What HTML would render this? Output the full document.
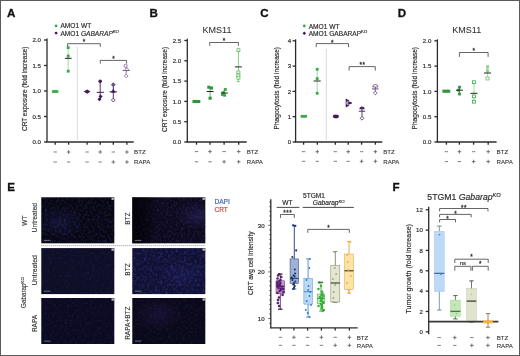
<!DOCTYPE html><html><head><meta charset="utf-8"><style>html,body{margin:0;padding:0;background:#fff;overflow:hidden;}svg{display:block;will-change:transform;}</style></head><body>
<svg width="520" height="356" viewBox="0 0 520 356" font-family='"Liberation Sans", sans-serif'>
<defs><filter id="nb1" x="0" y="0" width="100%" height="100%" color-interpolation-filters="sRGB"><feTurbulence type="fractalNoise" baseFrequency="0.42" numOctaves="2" seed="3"/><feColorMatrix type="matrix" values="0 0 0 0 0.15  0 0 0 0 0.15  0 0 0 0 0.42  0 0 0 1.6 -0.72"/><feComposite in2="SourceGraphic" operator="in"/></filter><filter id="nb2" x="0" y="0" width="100%" height="100%" color-interpolation-filters="sRGB"><feTurbulence type="fractalNoise" baseFrequency="0.38" numOctaves="2" seed="8"/><feColorMatrix type="matrix" values="0 0 0 0 0.18  0 0 0 0 0.18  0 0 0 0 0.5  0 0 0 1.7 -0.72"/><feComposite in2="SourceGraphic" operator="in"/></filter><filter id="nr1" x="0" y="0" width="100%" height="100%" color-interpolation-filters="sRGB"><feTurbulence type="fractalNoise" baseFrequency="0.55" numOctaves="2" seed="5"/><feColorMatrix type="matrix" values="0 0 0 0 0.45  0 0 0 0 0.1  0 0 0 0 0.2  0 0 0 1.6 -0.98"/><feComposite in2="SourceGraphic" operator="in"/></filter><filter id="nb3" x="0" y="0" width="100%" height="100%" color-interpolation-filters="sRGB"><feTurbulence type="fractalNoise" baseFrequency="0.4" numOctaves="2" seed="11"/><feColorMatrix type="matrix" values="0 0 0 0 0.13  0 0 0 0 0.13  0 0 0 0 0.34  0 0 0 1.3 -0.62"/><feComposite in2="SourceGraphic" operator="in"/></filter><filter id="np1" x="0" y="0" width="100%" height="100%" color-interpolation-filters="sRGB"><feTurbulence type="fractalNoise" baseFrequency="0.42" numOctaves="2" seed="13"/><feColorMatrix type="matrix" values="0 0 0 0 0.2  0 0 0 0 0.13  0 0 0 0 0.4  0 0 0 1.6 -0.75"/><feComposite in2="SourceGraphic" operator="in"/></filter><filter id="np2" x="0" y="0" width="100%" height="100%" color-interpolation-filters="sRGB"><feTurbulence type="fractalNoise" baseFrequency="0.42" numOctaves="2" seed="17"/><feColorMatrix type="matrix" values="0 0 0 0 0.18  0 0 0 0 0.12  0 0 0 0 0.36  0 0 0 1.4 -0.7"/><feComposite in2="SourceGraphic" operator="in"/></filter><linearGradient id="gl" x1="0" y1="0" x2="1" y2="0"><stop offset="0" stop-color="#000" stop-opacity="0.75"/><stop offset="0.18" stop-color="#000" stop-opacity="0.5"/><stop offset="0.35" stop-color="#000" stop-opacity="0"/></linearGradient><radialGradient id="gb1" cx="0.25" cy="0.55" r="0.35"><stop offset="0" stop-color="#3a3aa0" stop-opacity="0.22"/><stop offset="1" stop-color="#3a3aa0" stop-opacity="0"/></radialGradient><radialGradient id="gb3" cx="0.9" cy="0.4" r="0.3"><stop offset="0" stop-color="#4a4ab0" stop-opacity="0.25"/><stop offset="1" stop-color="#4a4ab0" stop-opacity="0"/></radialGradient><radialGradient id="gb5" cx="0.68" cy="0.6" r="0.35"><stop offset="0" stop-color="#3a3ab0" stop-opacity="0.18"/><stop offset="1" stop-color="#3a3ab0" stop-opacity="0"/></radialGradient><radialGradient id="gb6" cx="0.35" cy="0.35" r="0.35"><stop offset="0" stop-color="#4a3090" stop-opacity="0.2"/><stop offset="1" stop-color="#4a3090" stop-opacity="0"/></radialGradient></defs>
<rect x="0.00" y="0.00" width="520.00" height="356.00" fill="#ffffff" stroke="none" stroke-width="0" />
<text x="7.00" y="17.20" font-size="11.6" text-anchor="start" fill="#111" stroke="#111" stroke-width="0.3" font-weight="bold" font-style="normal" >A</text>
<text x="149.50" y="16.60" font-size="11.6" text-anchor="start" fill="#111" stroke="#111" stroke-width="0.3" font-weight="bold" font-style="normal" >B</text>
<text x="260.30" y="17.10" font-size="11.6" text-anchor="start" fill="#111" stroke="#111" stroke-width="0.3" font-weight="bold" font-style="normal" >C</text>
<text x="397.80" y="17.00" font-size="11.6" text-anchor="start" fill="#111" stroke="#111" stroke-width="0.3" font-weight="bold" font-style="normal" >D</text>
<text x="7.30" y="190.80" font-size="11.6" text-anchor="start" fill="#111" stroke="#111" stroke-width="0.3" font-weight="bold" font-style="normal" >E</text>
<text x="392.50" y="191.30" font-size="11.6" text-anchor="start" fill="#111" stroke="#111" stroke-width="0.3" font-weight="bold" font-style="normal" >F</text>
<line x1="47.00" y1="38.50" x2="47.00" y2="142.00" stroke="#2b2b2b" stroke-width="1.3" />
<line x1="44.00" y1="142.00" x2="47.00" y2="142.00" stroke="#2b2b2b" stroke-width="1.3" />
<text x="40.90" y="144.20" font-size="6.1" text-anchor="end" fill="#2f2f2f" stroke="#2f2f2f" stroke-width="0.18" font-weight="normal" font-style="normal" >0.0</text>
<line x1="44.00" y1="116.50" x2="47.00" y2="116.50" stroke="#2b2b2b" stroke-width="1.3" />
<text x="40.90" y="118.70" font-size="6.1" text-anchor="end" fill="#2f2f2f" stroke="#2f2f2f" stroke-width="0.18" font-weight="normal" font-style="normal" >0.5</text>
<line x1="44.00" y1="91.00" x2="47.00" y2="91.00" stroke="#2b2b2b" stroke-width="1.3" />
<text x="40.90" y="93.20" font-size="6.1" text-anchor="end" fill="#2f2f2f" stroke="#2f2f2f" stroke-width="0.18" font-weight="normal" font-style="normal" >1.0</text>
<line x1="44.00" y1="65.50" x2="47.00" y2="65.50" stroke="#2b2b2b" stroke-width="1.3" />
<text x="40.90" y="67.70" font-size="6.1" text-anchor="end" fill="#2f2f2f" stroke="#2f2f2f" stroke-width="0.18" font-weight="normal" font-style="normal" >1.5</text>
<line x1="44.00" y1="40.00" x2="47.00" y2="40.00" stroke="#2b2b2b" stroke-width="1.3" />
<text x="40.90" y="42.20" font-size="6.1" text-anchor="end" fill="#2f2f2f" stroke="#2f2f2f" stroke-width="0.18" font-weight="normal" font-style="normal" >2.0</text>
<line x1="46.35" y1="142.00" x2="133.70" y2="142.00" stroke="#2b2b2b" stroke-width="1.3" />
<line x1="55.20" y1="142.00" x2="55.20" y2="144.70" stroke="#2b2b2b" stroke-width="1.3" />
<line x1="68.60" y1="142.00" x2="68.60" y2="144.70" stroke="#2b2b2b" stroke-width="1.3" />
<line x1="87.10" y1="142.00" x2="87.10" y2="144.70" stroke="#2b2b2b" stroke-width="1.3" />
<line x1="100.20" y1="142.00" x2="100.20" y2="144.70" stroke="#2b2b2b" stroke-width="1.3" />
<line x1="113.30" y1="142.00" x2="113.30" y2="144.70" stroke="#2b2b2b" stroke-width="1.3" />
<line x1="126.90" y1="142.00" x2="126.90" y2="144.70" stroke="#2b2b2b" stroke-width="1.3" />
<text transform="translate(24.40,88.80) rotate(-90)" x="0" y="2.66" font-size="7.4" text-anchor="middle" fill="#2f2f2f" stroke="#2f2f2f" stroke-width="0.18" textLength="84.5" lengthAdjust="spacingAndGlyphs" >CRT exposure (fold increase)</text>
<circle cx="56.10" cy="25.90" r="1.4" fill="#3aaa48" stroke="none" stroke-width="0.6"/>
<text x="60.40" y="28.40" font-size="6.6" text-anchor="start" fill="#2f2f2f" stroke="#2f2f2f" stroke-width="0.18" font-weight="normal" font-style="normal" >AMO1 WT</text>
<circle cx="56.10" cy="33.10" r="1.4" fill="#42195a" stroke="none" stroke-width="0.6"/>
<text x="60.40" y="35.60" font-size="6.6" text-anchor="start" fill="#2f2f2f" stroke="#2f2f2f" stroke-width="0.18" font-weight="normal" font-style="normal" >AMO1 <tspan font-style="italic">GABARAP</tspan><tspan font-size="4.2" dy="-2.4" font-style="italic">KO</tspan></text>
<line x1="77.30" y1="47.00" x2="77.30" y2="140.00" stroke="#cfcfcf" stroke-width="0.8" />
<path d="M67.60,46.90 L67.60,43.70 L100.30,43.70 L100.30,46.90" fill="none" stroke="#4a4a4a" stroke-width="0.85"/>
<text x="83.95" y="43.80" font-size="6.4" text-anchor="middle" fill="#333" stroke="#333" stroke-width="0.3" font-weight="normal" font-style="normal" >*</text>
<path d="M100.30,63.60 L100.30,60.40 L126.60,60.40 L126.60,63.60" fill="none" stroke="#4a4a4a" stroke-width="0.85"/>
<text x="113.45" y="60.50" font-size="6.4" text-anchor="middle" fill="#333" stroke="#333" stroke-width="0.3" font-weight="normal" font-style="normal" >*</text>
<rect x="52.04" y="90.14" width="2.71" height="2.71" fill="#3aaa48" stroke="none" stroke-width="0.6" />
<rect x="53.84" y="90.14" width="2.71" height="2.71" fill="#3aaa48" stroke="none" stroke-width="0.6" />
<rect x="55.64" y="90.14" width="2.71" height="2.71" fill="#3aaa48" stroke="none" stroke-width="0.6" />
<line x1="68.20" y1="47.60" x2="68.20" y2="71.20" stroke="#8fd08f" stroke-width="0.8" />
<rect x="66.78" y="46.18" width="2.83" height="2.83" fill="#3aaa48" stroke="none" stroke-width="0.6" />
<rect x="66.78" y="54.58" width="2.83" height="2.83" fill="#3aaa48" stroke="none" stroke-width="0.6" />
<rect x="66.78" y="69.78" width="2.83" height="2.83" fill="#3aaa48" stroke="none" stroke-width="0.6" />
<line x1="64.90" y1="58.30" x2="71.60" y2="58.30" stroke="#222" stroke-width="1.0" />
<path d="M87.10,89.50 L90.50,91.60 L87.10,93.70 L83.70,91.60 Z" fill="#42195a" stroke="none" stroke-width="0.6"/>
<line x1="100.20" y1="81.30" x2="100.20" y2="99.50" stroke="#42195a" stroke-width="0.9" />
<circle cx="100.20" cy="81.30" r="1.8" fill="#42195a" stroke="none" stroke-width="0.6"/>
<path d="M100.60,94.40 L102.60,96.40 L100.60,98.40 L98.60,96.40 Z" fill="#42195a" stroke="none" stroke-width="0.6"/>
<path d="M99.50,97.30 L101.50,99.30 L99.50,101.30 L97.50,99.30 Z" fill="#42195a" stroke="none" stroke-width="0.6"/>
<line x1="96.70" y1="92.30" x2="103.90" y2="92.30" stroke="#42195a" stroke-width="1.0" />
<line x1="113.30" y1="84.70" x2="113.30" y2="100.10" stroke="#42195a" stroke-width="0.9" />
<path d="M113.30,82.80 L115.20,84.70 L113.30,86.60 L111.40,84.70 Z" fill="#7a5a90" stroke="#42195a" stroke-width="0.7"/>
<path d="M113.30,88.50 L115.60,92.64 L111.00,92.64 Z" fill="#42195a" stroke="none" stroke-width="0.6"/>
<path d="M113.30,98.20 L115.20,100.10 L113.30,102.00 L111.40,100.10 Z" fill="#fff" stroke="#42195a" stroke-width="0.8"/>
<line x1="109.60" y1="91.80" x2="117.00" y2="91.80" stroke="#42195a" stroke-width="1.0" />
<line x1="126.20" y1="65.80" x2="126.20" y2="75.90" stroke="#7d5f96" stroke-width="0.8" />
<circle cx="125.60" cy="65.80" r="1.6" fill="#fff" stroke="#7d5f96" stroke-width="0.8"/>
<circle cx="126.80" cy="69.40" r="1.5" fill="#fff" stroke="#7d5f96" stroke-width="0.8"/>
<path d="M126.20,74.00 L128.10,75.90 L126.20,77.80 L124.30,75.90 Z" fill="#fff" stroke="#7d5f96" stroke-width="0.8"/>
<line x1="122.60" y1="70.50" x2="129.80" y2="70.50" stroke="#7d5f96" stroke-width="1.0" />
<line x1="53.50" y1="152.00" x2="56.90" y2="152.00" stroke="#606060" stroke-width="0.8" />
<line x1="66.80" y1="152.00" x2="70.40" y2="152.00" stroke="#606060" stroke-width="0.85" />
<line x1="68.60" y1="150.20" x2="68.60" y2="153.80" stroke="#606060" stroke-width="0.85" />
<line x1="85.40" y1="152.00" x2="88.80" y2="152.00" stroke="#606060" stroke-width="0.8" />
<line x1="98.40" y1="152.00" x2="102.00" y2="152.00" stroke="#606060" stroke-width="0.85" />
<line x1="100.20" y1="150.20" x2="100.20" y2="153.80" stroke="#606060" stroke-width="0.85" />
<line x1="111.60" y1="152.00" x2="115.00" y2="152.00" stroke="#606060" stroke-width="0.8" />
<line x1="125.10" y1="152.00" x2="128.70" y2="152.00" stroke="#606060" stroke-width="0.85" />
<line x1="126.90" y1="150.20" x2="126.90" y2="153.80" stroke="#606060" stroke-width="0.85" />
<line x1="53.50" y1="162.00" x2="56.90" y2="162.00" stroke="#606060" stroke-width="0.8" />
<line x1="66.90" y1="162.00" x2="70.30" y2="162.00" stroke="#606060" stroke-width="0.8" />
<line x1="85.40" y1="162.00" x2="88.80" y2="162.00" stroke="#606060" stroke-width="0.8" />
<line x1="98.50" y1="162.00" x2="101.90" y2="162.00" stroke="#606060" stroke-width="0.8" />
<line x1="111.50" y1="162.00" x2="115.10" y2="162.00" stroke="#606060" stroke-width="0.85" />
<line x1="113.30" y1="160.20" x2="113.30" y2="163.80" stroke="#606060" stroke-width="0.85" />
<line x1="125.10" y1="162.00" x2="128.70" y2="162.00" stroke="#606060" stroke-width="0.85" />
<line x1="126.90" y1="160.20" x2="126.90" y2="163.80" stroke="#606060" stroke-width="0.85" />
<text x="134.10" y="154.20" font-size="6.1" text-anchor="start" fill="#2f2f2f" stroke="#2f2f2f" stroke-width="0.08" font-weight="normal" font-style="normal" >BTZ</text>
<text x="134.10" y="164.20" font-size="6.1" text-anchor="start" fill="#2f2f2f" stroke="#2f2f2f" stroke-width="0.08" font-weight="normal" font-style="normal" >RAPA</text>
<line x1="187.30" y1="38.80" x2="187.30" y2="142.00" stroke="#2b2b2b" stroke-width="1.3" />
<line x1="184.30" y1="142.00" x2="187.30" y2="142.00" stroke="#2b2b2b" stroke-width="1.3" />
<text x="181.20" y="144.20" font-size="6.1" text-anchor="end" fill="#2f2f2f" stroke="#2f2f2f" stroke-width="0.18" font-weight="normal" font-style="normal" >0.0</text>
<line x1="184.30" y1="121.70" x2="187.30" y2="121.70" stroke="#2b2b2b" stroke-width="1.3" />
<text x="181.20" y="123.90" font-size="6.1" text-anchor="end" fill="#2f2f2f" stroke="#2f2f2f" stroke-width="0.18" font-weight="normal" font-style="normal" >0.5</text>
<line x1="184.30" y1="101.40" x2="187.30" y2="101.40" stroke="#2b2b2b" stroke-width="1.3" />
<text x="181.20" y="103.60" font-size="6.1" text-anchor="end" fill="#2f2f2f" stroke="#2f2f2f" stroke-width="0.18" font-weight="normal" font-style="normal" >1.0</text>
<line x1="184.30" y1="81.10" x2="187.30" y2="81.10" stroke="#2b2b2b" stroke-width="1.3" />
<text x="181.20" y="83.30" font-size="6.1" text-anchor="end" fill="#2f2f2f" stroke="#2f2f2f" stroke-width="0.18" font-weight="normal" font-style="normal" >1.5</text>
<line x1="184.30" y1="60.80" x2="187.30" y2="60.80" stroke="#2b2b2b" stroke-width="1.3" />
<text x="181.20" y="63.00" font-size="6.1" text-anchor="end" fill="#2f2f2f" stroke="#2f2f2f" stroke-width="0.18" font-weight="normal" font-style="normal" >2.0</text>
<line x1="184.30" y1="40.50" x2="187.30" y2="40.50" stroke="#2b2b2b" stroke-width="1.3" />
<text x="181.20" y="42.70" font-size="6.1" text-anchor="end" fill="#2f2f2f" stroke="#2f2f2f" stroke-width="0.18" font-weight="normal" font-style="normal" >2.5</text>
<line x1="186.65" y1="142.00" x2="246.70" y2="142.00" stroke="#2b2b2b" stroke-width="1.3" />
<line x1="196.50" y1="142.00" x2="196.50" y2="144.70" stroke="#2b2b2b" stroke-width="1.3" />
<line x1="210.00" y1="142.00" x2="210.00" y2="144.70" stroke="#2b2b2b" stroke-width="1.3" />
<line x1="224.10" y1="142.00" x2="224.10" y2="144.70" stroke="#2b2b2b" stroke-width="1.3" />
<line x1="238.70" y1="142.00" x2="238.70" y2="144.70" stroke="#2b2b2b" stroke-width="1.3" />
<text transform="translate(164.80,89.40) rotate(-90)" x="0" y="2.66" font-size="7.4" text-anchor="middle" fill="#2f2f2f" stroke="#2f2f2f" stroke-width="0.18" textLength="85" lengthAdjust="spacingAndGlyphs" >CRT exposure (fold increase)</text>
<text x="217.00" y="32.90" font-size="9.0" text-anchor="middle" fill="#2f2f2f" stroke="#2f2f2f" stroke-width="0.05" font-weight="normal" font-style="normal" >KMS11</text>
<path d="M209.70,45.90 L209.70,42.50 L238.40,42.50 L238.40,45.90" fill="none" stroke="#4a4a4a" stroke-width="0.85"/>
<text x="224.05" y="42.60" font-size="6.4" text-anchor="middle" fill="#333" stroke="#333" stroke-width="0.3" font-weight="normal" font-style="normal" >*</text>
<rect x="192.47" y="99.97" width="3.07" height="3.07" fill="#2e953d" stroke="none" stroke-width="0.6" />
<rect x="194.87" y="99.97" width="3.07" height="3.07" fill="#2e953d" stroke="none" stroke-width="0.6" />
<rect x="197.27" y="99.97" width="3.07" height="3.07" fill="#2e953d" stroke="none" stroke-width="0.6" />
<line x1="210.10" y1="87.20" x2="210.10" y2="98.00" stroke="#3aaa48" stroke-width="0.8" />
<rect x="207.27" y="85.67" width="3.07" height="3.07" fill="#2e953d" stroke="none" stroke-width="0.6" />
<rect x="209.97" y="86.47" width="3.07" height="3.07" fill="#2e953d" stroke="none" stroke-width="0.6" />
<rect x="208.57" y="96.67" width="3.07" height="3.07" fill="#2e953d" stroke="none" stroke-width="0.6" />
<line x1="206.60" y1="91.50" x2="213.60" y2="91.50" stroke="#222" stroke-width="1.0" />
<line x1="224.30" y1="89.50" x2="224.30" y2="96.00" stroke="#3aaa48" stroke-width="0.8" />
<rect x="223.83" y="88.03" width="2.95" height="2.95" fill="#3aaa48" stroke="none" stroke-width="0.6" />
<rect x="221.83" y="91.12" width="2.95" height="2.95" fill="#3aaa48" stroke="none" stroke-width="0.6" />
<rect x="223.12" y="93.73" width="2.95" height="2.95" fill="#3aaa48" stroke="none" stroke-width="0.6" />
<rect x="221.12" y="93.03" width="2.95" height="2.95" fill="#3aaa48" stroke="none" stroke-width="0.6" />
<line x1="220.80" y1="93.00" x2="227.80" y2="93.00" stroke="#222" stroke-width="1.0" />
<line x1="238.40" y1="50.20" x2="238.40" y2="81.60" stroke="#6cc06c" stroke-width="0.8" />
<rect x="236.93" y="48.73" width="2.95" height="2.95" fill="#fff" stroke="#5ab85a" stroke-width="0.8" />
<rect x="236.93" y="70.93" width="2.95" height="2.95" fill="#fff" stroke="#5ab85a" stroke-width="0.8" />
<rect x="236.93" y="73.93" width="2.95" height="2.95" fill="#fff" stroke="#5ab85a" stroke-width="0.8" />
<rect x="236.93" y="76.23" width="2.95" height="2.95" fill="#fff" stroke="#5ab85a" stroke-width="0.8" />
<line x1="236.60" y1="81.60" x2="240.20" y2="81.60" stroke="#6cc06c" stroke-width="0.8" />
<line x1="234.90" y1="66.90" x2="241.90" y2="66.90" stroke="#222" stroke-width="1.0" />
<line x1="194.80" y1="151.60" x2="198.20" y2="151.60" stroke="#606060" stroke-width="0.8" />
<line x1="208.20" y1="151.60" x2="211.80" y2="151.60" stroke="#606060" stroke-width="0.85" />
<line x1="210.00" y1="149.80" x2="210.00" y2="153.40" stroke="#606060" stroke-width="0.85" />
<line x1="222.40" y1="151.60" x2="225.80" y2="151.60" stroke="#606060" stroke-width="0.8" />
<line x1="236.90" y1="151.60" x2="240.50" y2="151.60" stroke="#606060" stroke-width="0.85" />
<line x1="238.70" y1="149.80" x2="238.70" y2="153.40" stroke="#606060" stroke-width="0.85" />
<line x1="194.80" y1="161.80" x2="198.20" y2="161.80" stroke="#606060" stroke-width="0.8" />
<line x1="208.30" y1="161.80" x2="211.70" y2="161.80" stroke="#606060" stroke-width="0.8" />
<line x1="222.30" y1="161.80" x2="225.90" y2="161.80" stroke="#606060" stroke-width="0.85" />
<line x1="224.10" y1="160.00" x2="224.10" y2="163.60" stroke="#606060" stroke-width="0.85" />
<line x1="236.90" y1="161.80" x2="240.50" y2="161.80" stroke="#606060" stroke-width="0.85" />
<line x1="238.70" y1="160.00" x2="238.70" y2="163.60" stroke="#606060" stroke-width="0.85" />
<text x="246.80" y="153.80" font-size="6.1" text-anchor="start" fill="#2f2f2f" stroke="#2f2f2f" stroke-width="0.08" font-weight="normal" font-style="normal" >BTZ</text>
<text x="246.80" y="164.00" font-size="6.1" text-anchor="start" fill="#2f2f2f" stroke="#2f2f2f" stroke-width="0.08" font-weight="normal" font-style="normal" >RAPA</text>
<line x1="295.60" y1="39.30" x2="295.60" y2="142.00" stroke="#2b2b2b" stroke-width="1.3" />
<line x1="292.60" y1="142.00" x2="295.60" y2="142.00" stroke="#2b2b2b" stroke-width="1.3" />
<text x="291.20" y="144.20" font-size="6.1" text-anchor="end" fill="#2f2f2f" stroke="#2f2f2f" stroke-width="0.18" font-weight="normal" font-style="normal" >0</text>
<line x1="292.60" y1="116.70" x2="295.60" y2="116.70" stroke="#2b2b2b" stroke-width="1.3" />
<text x="291.20" y="118.90" font-size="6.1" text-anchor="end" fill="#2f2f2f" stroke="#2f2f2f" stroke-width="0.18" font-weight="normal" font-style="normal" >1</text>
<line x1="292.60" y1="91.40" x2="295.60" y2="91.40" stroke="#2b2b2b" stroke-width="1.3" />
<text x="291.20" y="93.60" font-size="6.1" text-anchor="end" fill="#2f2f2f" stroke="#2f2f2f" stroke-width="0.18" font-weight="normal" font-style="normal" >2</text>
<line x1="292.60" y1="66.10" x2="295.60" y2="66.10" stroke="#2b2b2b" stroke-width="1.3" />
<text x="291.20" y="68.30" font-size="6.1" text-anchor="end" fill="#2f2f2f" stroke="#2f2f2f" stroke-width="0.18" font-weight="normal" font-style="normal" >3</text>
<line x1="292.60" y1="40.80" x2="295.60" y2="40.80" stroke="#2b2b2b" stroke-width="1.3" />
<text x="291.20" y="43.00" font-size="6.1" text-anchor="end" fill="#2f2f2f" stroke="#2f2f2f" stroke-width="0.18" font-weight="normal" font-style="normal" >4</text>
<line x1="294.95" y1="142.00" x2="382.30" y2="142.00" stroke="#2b2b2b" stroke-width="1.3" />
<line x1="303.60" y1="142.00" x2="303.60" y2="144.70" stroke="#2b2b2b" stroke-width="1.3" />
<line x1="317.30" y1="142.00" x2="317.30" y2="144.70" stroke="#2b2b2b" stroke-width="1.3" />
<line x1="335.30" y1="142.00" x2="335.30" y2="144.70" stroke="#2b2b2b" stroke-width="1.3" />
<line x1="348.20" y1="142.00" x2="348.20" y2="144.70" stroke="#2b2b2b" stroke-width="1.3" />
<line x1="361.60" y1="142.00" x2="361.60" y2="144.70" stroke="#2b2b2b" stroke-width="1.3" />
<line x1="375.40" y1="142.00" x2="375.40" y2="144.70" stroke="#2b2b2b" stroke-width="1.3" />
<text transform="translate(276.80,88.20) rotate(-90)" x="0" y="2.66" font-size="7.4" text-anchor="middle" fill="#2f2f2f" stroke="#2f2f2f" stroke-width="0.18" textLength="82.5" lengthAdjust="spacingAndGlyphs" >Phagocytosis (fold increase)</text>
<circle cx="304.30" cy="26.00" r="1.4" fill="#3aaa48" stroke="none" stroke-width="0.6"/>
<text x="308.70" y="28.50" font-size="6.6" text-anchor="start" fill="#2f2f2f" stroke="#2f2f2f" stroke-width="0.18" font-weight="normal" font-style="normal" >AMO1 WT</text>
<path d="M304.30,31.40 L306.10,33.20 L304.30,35.00 L302.50,33.20 Z" fill="#42195a" stroke="none" stroke-width="0.6"/>
<text x="308.70" y="35.70" font-size="6.6" text-anchor="start" fill="#2f2f2f" stroke="#2f2f2f" stroke-width="0.18" font-weight="normal" font-style="normal" >AMO1 GABARAP<tspan font-size="4.2" dy="-2.4">KO</tspan></text>
<line x1="326.30" y1="49.00" x2="326.30" y2="140.00" stroke="#cfcfcf" stroke-width="0.8" />
<path d="M316.20,47.20 L316.20,43.60 L348.50,43.60 L348.50,47.20" fill="none" stroke="#4a4a4a" stroke-width="0.85"/>
<text x="332.35" y="45.00" font-size="6.4" text-anchor="middle" fill="#333" stroke="#333" stroke-width="0.3" font-weight="normal" font-style="normal" >*</text>
<path d="M349.10,70.60 L349.10,66.60 L375.30,66.60 L375.30,70.60" fill="none" stroke="#4a4a4a" stroke-width="0.85"/>
<text x="362.45" y="67.10" font-size="6.4" text-anchor="middle" fill="#333" stroke="#333" stroke-width="0.3" font-weight="normal" font-style="normal" letter-spacing="0.5">**</text>
<rect x="300.64" y="114.94" width="2.71" height="2.71" fill="#3aaa48" stroke="none" stroke-width="0.6" />
<rect x="302.44" y="114.94" width="2.71" height="2.71" fill="#3aaa48" stroke="none" stroke-width="0.6" />
<rect x="304.24" y="114.94" width="2.71" height="2.71" fill="#3aaa48" stroke="none" stroke-width="0.6" />
<line x1="317.20" y1="69.30" x2="317.20" y2="93.30" stroke="#8fd08f" stroke-width="0.8" />
<rect x="315.78" y="67.88" width="2.83" height="2.83" fill="#3aaa48" stroke="none" stroke-width="0.6" />
<rect x="315.78" y="77.18" width="2.83" height="2.83" fill="#3aaa48" stroke="none" stroke-width="0.6" />
<rect x="315.78" y="91.88" width="2.83" height="2.83" fill="#3aaa48" stroke="none" stroke-width="0.6" />
<line x1="313.70" y1="81.00" x2="320.70" y2="81.00" stroke="#222" stroke-width="1.0" />
<ellipse cx="335.90" cy="116.40" rx="3.0" ry="1.8" fill="#42195a" stroke="none" stroke-width="0.6"/>
<path d="M345.70,98.50 L349.50,100.40 L345.70,102.30 Z" fill="#42195a"/>
<path d="M348.30,101.10 L352.10,103.00 L348.30,104.90 Z" fill="#42195a"/>
<path d="M345.70,103.70 L349.50,105.60 L345.70,107.50 Z" fill="#42195a"/>
<line x1="345.40" y1="103.00" x2="352.00" y2="103.00" stroke="#42195a" stroke-width="0.9" />
<line x1="362.00" y1="108.30" x2="362.00" y2="118.30" stroke="#4a2a5a" stroke-width="0.9" />
<path d="M359.40,109.20 A2.6,2.6 0 0 1 364.60,109.20 Z" fill="#4a2a5a" stroke="none" stroke-width="0.6"/>
<line x1="358.80" y1="111.20" x2="365.20" y2="111.20" stroke="#4a2a5a" stroke-width="1.0" />
<path d="M362.00,116.40 L363.90,118.30 L362.00,120.20 L360.10,118.30 Z" fill="#fff" stroke="#4a2a5a" stroke-width="0.8"/>
<line x1="375.30" y1="86.00" x2="375.30" y2="93.00" stroke="#6a4a7a" stroke-width="0.9" />
<path d="M372.70,87.00 A2.6,2.6 0 0 1 377.90,87.00 Z" fill="#fff" stroke="#6a4a7a" stroke-width="0.8"/>
<line x1="372.10" y1="88.90" x2="378.50" y2="88.90" stroke="#6a4a7a" stroke-width="1.0" />
<path d="M375.30,91.10 L377.20,93.00 L375.30,94.90 L373.40,93.00 Z" fill="#fff" stroke="#6a4a7a" stroke-width="0.8"/>
<line x1="301.90" y1="151.70" x2="305.30" y2="151.70" stroke="#606060" stroke-width="0.8" />
<line x1="315.50" y1="151.70" x2="319.10" y2="151.70" stroke="#606060" stroke-width="0.85" />
<line x1="317.30" y1="149.90" x2="317.30" y2="153.50" stroke="#606060" stroke-width="0.85" />
<line x1="333.60" y1="151.70" x2="337.00" y2="151.70" stroke="#606060" stroke-width="0.8" />
<line x1="346.40" y1="151.70" x2="350.00" y2="151.70" stroke="#606060" stroke-width="0.85" />
<line x1="348.20" y1="149.90" x2="348.20" y2="153.50" stroke="#606060" stroke-width="0.85" />
<line x1="359.90" y1="151.70" x2="363.30" y2="151.70" stroke="#606060" stroke-width="0.8" />
<line x1="373.60" y1="151.70" x2="377.20" y2="151.70" stroke="#606060" stroke-width="0.85" />
<line x1="375.40" y1="149.90" x2="375.40" y2="153.50" stroke="#606060" stroke-width="0.85" />
<line x1="301.90" y1="161.30" x2="305.30" y2="161.30" stroke="#606060" stroke-width="0.8" />
<line x1="315.60" y1="161.30" x2="319.00" y2="161.30" stroke="#606060" stroke-width="0.8" />
<line x1="333.60" y1="161.30" x2="337.00" y2="161.30" stroke="#606060" stroke-width="0.8" />
<line x1="346.50" y1="161.30" x2="349.90" y2="161.30" stroke="#606060" stroke-width="0.8" />
<line x1="359.80" y1="161.30" x2="363.40" y2="161.30" stroke="#606060" stroke-width="0.85" />
<line x1="361.60" y1="159.50" x2="361.60" y2="163.10" stroke="#606060" stroke-width="0.85" />
<line x1="373.60" y1="161.30" x2="377.20" y2="161.30" stroke="#606060" stroke-width="0.85" />
<line x1="375.40" y1="159.50" x2="375.40" y2="163.10" stroke="#606060" stroke-width="0.85" />
<text x="383.30" y="153.90" font-size="6.1" text-anchor="start" fill="#2f2f2f" stroke="#2f2f2f" stroke-width="0.08" font-weight="normal" font-style="normal" >BTZ</text>
<text x="383.30" y="163.50" font-size="6.1" text-anchor="start" fill="#2f2f2f" stroke="#2f2f2f" stroke-width="0.08" font-weight="normal" font-style="normal" >RAPA</text>
<line x1="437.40" y1="39.30" x2="437.40" y2="142.00" stroke="#2b2b2b" stroke-width="1.3" />
<line x1="434.40" y1="142.00" x2="437.40" y2="142.00" stroke="#2b2b2b" stroke-width="1.3" />
<text x="431.30" y="144.20" font-size="6.1" text-anchor="end" fill="#2f2f2f" stroke="#2f2f2f" stroke-width="0.18" font-weight="normal" font-style="normal" >0.0</text>
<line x1="434.40" y1="116.70" x2="437.40" y2="116.70" stroke="#2b2b2b" stroke-width="1.3" />
<text x="431.30" y="118.90" font-size="6.1" text-anchor="end" fill="#2f2f2f" stroke="#2f2f2f" stroke-width="0.18" font-weight="normal" font-style="normal" >0.5</text>
<line x1="434.40" y1="91.40" x2="437.40" y2="91.40" stroke="#2b2b2b" stroke-width="1.3" />
<text x="431.30" y="93.60" font-size="6.1" text-anchor="end" fill="#2f2f2f" stroke="#2f2f2f" stroke-width="0.18" font-weight="normal" font-style="normal" >1.0</text>
<line x1="434.40" y1="66.10" x2="437.40" y2="66.10" stroke="#2b2b2b" stroke-width="1.3" />
<text x="431.30" y="68.30" font-size="6.1" text-anchor="end" fill="#2f2f2f" stroke="#2f2f2f" stroke-width="0.18" font-weight="normal" font-style="normal" >1.5</text>
<line x1="434.40" y1="40.80" x2="437.40" y2="40.80" stroke="#2b2b2b" stroke-width="1.3" />
<text x="431.30" y="43.00" font-size="6.1" text-anchor="end" fill="#2f2f2f" stroke="#2f2f2f" stroke-width="0.18" font-weight="normal" font-style="normal" >2.0</text>
<line x1="436.75" y1="142.00" x2="496.60" y2="142.00" stroke="#2b2b2b" stroke-width="1.3" />
<line x1="446.40" y1="142.00" x2="446.40" y2="144.70" stroke="#2b2b2b" stroke-width="1.3" />
<line x1="459.40" y1="142.00" x2="459.40" y2="144.70" stroke="#2b2b2b" stroke-width="1.3" />
<line x1="473.60" y1="142.00" x2="473.60" y2="144.70" stroke="#2b2b2b" stroke-width="1.3" />
<line x1="488.20" y1="142.00" x2="488.20" y2="144.70" stroke="#2b2b2b" stroke-width="1.3" />
<text transform="translate(414.50,88.20) rotate(-90)" x="0" y="2.66" font-size="7.4" text-anchor="middle" fill="#2f2f2f" stroke="#2f2f2f" stroke-width="0.18" textLength="82.5" lengthAdjust="spacingAndGlyphs" >Phagocytosis (fold increase)</text>
<text x="466.80" y="33.10" font-size="9.0" text-anchor="middle" fill="#2f2f2f" stroke="#2f2f2f" stroke-width="0.05" font-weight="normal" font-style="normal" >KMS11</text>
<path d="M459.40,56.90 L459.40,52.50 L488.10,52.50 L488.10,56.90" fill="none" stroke="#4a4a4a" stroke-width="0.85"/>
<text x="473.75" y="53.20" font-size="6.4" text-anchor="middle" fill="#333" stroke="#333" stroke-width="0.3" font-weight="normal" font-style="normal" >*</text>
<rect x="442.37" y="89.67" width="3.07" height="3.07" fill="#2e953d" stroke="none" stroke-width="0.6" />
<rect x="444.77" y="89.67" width="3.07" height="3.07" fill="#2e953d" stroke="none" stroke-width="0.6" />
<rect x="447.17" y="89.67" width="3.07" height="3.07" fill="#2e953d" stroke="none" stroke-width="0.6" />
<line x1="459.50" y1="87.20" x2="459.50" y2="94.00" stroke="#2e953d" stroke-width="0.8" />
<rect x="458.08" y="85.78" width="2.83" height="2.83" fill="#2e953d" stroke="none" stroke-width="0.6" />
<rect x="457.18" y="88.78" width="2.83" height="2.83" fill="#2e953d" stroke="none" stroke-width="0.6" />
<rect x="458.08" y="92.58" width="2.83" height="2.83" fill="#2e953d" stroke="none" stroke-width="0.6" />
<line x1="456.00" y1="90.20" x2="463.00" y2="90.20" stroke="#222" stroke-width="1.0" />
<line x1="474.00" y1="82.20" x2="474.00" y2="101.70" stroke="#8fd08f" stroke-width="0.8" />
<rect x="472.58" y="80.78" width="2.83" height="2.83" fill="#fff" stroke="#3aaa48" stroke-width="0.8" />
<rect x="472.58" y="94.98" width="2.83" height="2.83" fill="#fff" stroke="#3aaa48" stroke-width="0.8" />
<rect x="472.58" y="100.28" width="2.83" height="2.83" fill="#fff" stroke="#3aaa48" stroke-width="0.8" />
<line x1="470.50" y1="93.30" x2="477.50" y2="93.30" stroke="#222" stroke-width="1.0" />
<line x1="487.50" y1="66.80" x2="487.50" y2="78.50" stroke="#9ed89e" stroke-width="0.8" />
<rect x="485.97" y="65.27" width="3.07" height="3.07" fill="#8fd08f" stroke="none" stroke-width="0.6" />
<rect x="485.97" y="69.27" width="3.07" height="3.07" fill="#8fd08f" stroke="none" stroke-width="0.6" />
<rect x="486.02" y="77.03" width="2.95" height="2.95" fill="#fff" stroke="#6cc06c" stroke-width="0.8" />
<line x1="484.00" y1="73.00" x2="491.00" y2="73.00" stroke="#222" stroke-width="1.0" />
<line x1="444.70" y1="151.70" x2="448.10" y2="151.70" stroke="#606060" stroke-width="0.8" />
<line x1="457.60" y1="151.70" x2="461.20" y2="151.70" stroke="#606060" stroke-width="0.85" />
<line x1="459.40" y1="149.90" x2="459.40" y2="153.50" stroke="#606060" stroke-width="0.85" />
<line x1="471.90" y1="151.70" x2="475.30" y2="151.70" stroke="#606060" stroke-width="0.8" />
<line x1="486.40" y1="151.70" x2="490.00" y2="151.70" stroke="#606060" stroke-width="0.85" />
<line x1="488.20" y1="149.90" x2="488.20" y2="153.50" stroke="#606060" stroke-width="0.85" />
<line x1="444.70" y1="161.60" x2="448.10" y2="161.60" stroke="#606060" stroke-width="0.8" />
<line x1="457.70" y1="161.60" x2="461.10" y2="161.60" stroke="#606060" stroke-width="0.8" />
<line x1="471.80" y1="161.60" x2="475.40" y2="161.60" stroke="#606060" stroke-width="0.85" />
<line x1="473.60" y1="159.80" x2="473.60" y2="163.40" stroke="#606060" stroke-width="0.85" />
<line x1="486.40" y1="161.60" x2="490.00" y2="161.60" stroke="#606060" stroke-width="0.85" />
<line x1="488.20" y1="159.80" x2="488.20" y2="163.40" stroke="#606060" stroke-width="0.85" />
<text x="496.60" y="153.90" font-size="6.1" text-anchor="start" fill="#2f2f2f" stroke="#2f2f2f" stroke-width="0.08" font-weight="normal" font-style="normal" >BTZ</text>
<text x="496.60" y="163.80" font-size="6.1" text-anchor="start" fill="#2f2f2f" stroke="#2f2f2f" stroke-width="0.08" font-weight="normal" font-style="normal" >RAPA</text>
<rect x="41.30" y="197.30" width="73.00" height="46.00" fill="#070710" stroke="none" stroke-width="0" />
<rect x="41.30" y="197.30" width="73.00" height="46.00" fill="#000" stroke="none" stroke-width="0" filter="url(#nb1)"/>
<rect x="41.30" y="197.30" width="73.00" height="46.00" fill="url(#gb1)" stroke="none" stroke-width="0" />
<rect x="111.50" y="197.70" width="2.40" height="2.20" fill="#b8b8c0" stroke="none" stroke-width="0" />
<rect x="43.90" y="239.90" width="6.50" height="1.00" fill="#6a6a80" stroke="none" stroke-width="0" />
<rect x="132.30" y="197.30" width="73.00" height="46.00" fill="#0b0a1c" stroke="none" stroke-width="0" />
<rect x="132.30" y="197.30" width="73.00" height="46.00" fill="#000" stroke="none" stroke-width="0" filter="url(#np1)"/>
<rect x="132.30" y="197.30" width="73.00" height="46.00" fill="#000" stroke="none" stroke-width="0" filter="url(#nr1)"/>
<rect x="132.30" y="197.30" width="73.00" height="46.00" fill="url(#gb3)" stroke="none" stroke-width="0" />
<rect x="132.30" y="197.30" width="73.00" height="46.00" fill="url(#gl)" stroke="none" stroke-width="0" />
<rect x="202.50" y="197.70" width="2.40" height="2.20" fill="#b8b8c0" stroke="none" stroke-width="0" />
<rect x="134.90" y="239.90" width="6.50" height="1.00" fill="#6a6a80" stroke="none" stroke-width="0" />
<rect x="41.30" y="248.10" width="73.00" height="46.00" fill="#0e0e26" stroke="none" stroke-width="0" />
<rect x="41.30" y="248.10" width="73.00" height="46.00" fill="#000" stroke="none" stroke-width="0" filter="url(#nb3)"/>
<rect x="111.50" y="248.50" width="2.40" height="2.20" fill="#b8b8c0" stroke="none" stroke-width="0" />
<rect x="43.90" y="290.70" width="6.50" height="1.00" fill="#6a6a80" stroke="none" stroke-width="0" />
<rect x="132.30" y="248.10" width="73.00" height="46.00" fill="#101030" stroke="none" stroke-width="0" />
<rect x="132.30" y="248.10" width="73.00" height="46.00" fill="#000" stroke="none" stroke-width="0" filter="url(#nb2)"/>
<rect x="132.30" y="248.10" width="73.00" height="46.00" fill="url(#gb5)" stroke="none" stroke-width="0" />
<rect x="202.50" y="248.50" width="2.40" height="2.20" fill="#b8b8c0" stroke="none" stroke-width="0" />
<rect x="134.90" y="290.70" width="6.50" height="1.00" fill="#6a6a80" stroke="none" stroke-width="0" />
<rect x="41.30" y="298.00" width="73.00" height="46.00" fill="#0b0a20" stroke="none" stroke-width="0" />
<rect x="41.30" y="298.00" width="73.00" height="46.00" fill="#000" stroke="none" stroke-width="0" filter="url(#nb3)"/>
<rect x="111.50" y="298.40" width="2.40" height="2.20" fill="#b8b8c0" stroke="none" stroke-width="0" />
<rect x="43.90" y="340.60" width="6.50" height="1.00" fill="#6a6a80" stroke="none" stroke-width="0" />
<rect x="132.30" y="298.00" width="73.00" height="46.00" fill="#0a0919" stroke="none" stroke-width="0" />
<rect x="132.30" y="298.00" width="73.00" height="46.00" fill="#000" stroke="none" stroke-width="0" filter="url(#np2)"/>
<rect x="132.30" y="298.00" width="73.00" height="46.00" fill="url(#gb6)" stroke="none" stroke-width="0" />
<rect x="202.50" y="298.40" width="2.40" height="2.20" fill="#b8b8c0" stroke="none" stroke-width="0" />
<rect x="134.90" y="340.60" width="6.50" height="1.00" fill="#6a6a80" stroke="none" stroke-width="0" />
<line x1="41.3" y1="245.6" x2="205.3" y2="245.6" stroke="#8a8a8a" stroke-width="0.9" stroke-dasharray="1,1"/>
<text transform="translate(24.20,220.60) rotate(-90)" x="0" y="2.34" font-size="6.5" text-anchor="middle" fill="#2f2f2f" stroke="#2f2f2f" stroke-width="0.1"  >WT</text>
<text transform="translate(34.70,217.70) rotate(-90)" x="0" y="2.52" font-size="7.0" text-anchor="middle" fill="#2f2f2f" stroke="#2f2f2f" stroke-width="0.1" textLength="29.5" lengthAdjust="spacingAndGlyphs" >Untreated</text>
<text transform="translate(127.60,218.60) rotate(-90)" x="0" y="2.34" font-size="6.5" text-anchor="middle" fill="#2f2f2f" stroke="#2f2f2f" stroke-width="0.1"  >BTZ</text>
<text transform="translate(34.70,270.20) rotate(-90)" x="0" y="2.52" font-size="7.0" text-anchor="middle" fill="#2f2f2f" stroke="#2f2f2f" stroke-width="0.1" textLength="30" lengthAdjust="spacingAndGlyphs" >Untreated</text>
<text transform="translate(24.00,292.60) rotate(-90)" x="0" y="2.27" font-size="6.3" text-anchor="middle" fill="#2f2f2f" stroke="#2f2f2f" stroke-width="0.1"  >Gabarap<tspan font-size="4.2" dy="-2.4">KO</tspan></text>
<text transform="translate(34.20,323.50) rotate(-90)" x="0" y="2.34" font-size="6.5" text-anchor="middle" fill="#2f2f2f" stroke="#2f2f2f" stroke-width="0.1"  >RAPA</text>
<text transform="translate(127.80,269.50) rotate(-90)" x="0" y="2.34" font-size="6.5" text-anchor="middle" fill="#2f2f2f" stroke="#2f2f2f" stroke-width="0.1"  >BTZ</text>
<text transform="translate(127.80,323.20) rotate(-90)" x="0" y="2.34" font-size="6.5" text-anchor="middle" fill="#2f2f2f" stroke="#2f2f2f" stroke-width="0.1"  >RAPA+BTZ</text>
<text x="214.40" y="204.00" font-size="6.6" text-anchor="start" fill="#3d63a8" stroke="#3d63a8" stroke-width="0.18" font-weight="normal" font-style="normal" >DAPI</text>
<text x="214.40" y="211.60" font-size="6.6" text-anchor="start" fill="#c84646" stroke="#c84646" stroke-width="0.18" font-weight="normal" font-style="normal" >CRT</text>
<line x1="270.80" y1="199.30" x2="270.80" y2="328.30" stroke="#2b2b2b" stroke-width="1.3" />
<line x1="269.20" y1="323.16" x2="271.00" y2="323.16" stroke="#2b2b2b" stroke-width="0.7" />
<line x1="268.20" y1="318.50" x2="271.00" y2="318.50" stroke="#2b2b2b" stroke-width="0.7" />
<line x1="269.20" y1="313.84" x2="271.00" y2="313.84" stroke="#2b2b2b" stroke-width="0.7" />
<line x1="269.20" y1="309.18" x2="271.00" y2="309.18" stroke="#2b2b2b" stroke-width="0.7" />
<line x1="269.20" y1="304.52" x2="271.00" y2="304.52" stroke="#2b2b2b" stroke-width="0.7" />
<line x1="269.20" y1="299.86" x2="271.00" y2="299.86" stroke="#2b2b2b" stroke-width="0.7" />
<line x1="269.20" y1="295.20" x2="271.00" y2="295.20" stroke="#2b2b2b" stroke-width="0.7" />
<line x1="269.20" y1="290.54" x2="271.00" y2="290.54" stroke="#2b2b2b" stroke-width="0.7" />
<line x1="269.20" y1="285.88" x2="271.00" y2="285.88" stroke="#2b2b2b" stroke-width="0.7" />
<line x1="269.20" y1="281.22" x2="271.00" y2="281.22" stroke="#2b2b2b" stroke-width="0.7" />
<line x1="269.20" y1="276.56" x2="271.00" y2="276.56" stroke="#2b2b2b" stroke-width="0.7" />
<line x1="268.20" y1="271.90" x2="271.00" y2="271.90" stroke="#2b2b2b" stroke-width="0.7" />
<line x1="269.20" y1="267.24" x2="271.00" y2="267.24" stroke="#2b2b2b" stroke-width="0.7" />
<line x1="269.20" y1="262.58" x2="271.00" y2="262.58" stroke="#2b2b2b" stroke-width="0.7" />
<line x1="269.20" y1="257.92" x2="271.00" y2="257.92" stroke="#2b2b2b" stroke-width="0.7" />
<line x1="269.20" y1="253.26" x2="271.00" y2="253.26" stroke="#2b2b2b" stroke-width="0.7" />
<line x1="269.20" y1="248.60" x2="271.00" y2="248.60" stroke="#2b2b2b" stroke-width="0.7" />
<line x1="269.20" y1="243.94" x2="271.00" y2="243.94" stroke="#2b2b2b" stroke-width="0.7" />
<line x1="269.20" y1="239.28" x2="271.00" y2="239.28" stroke="#2b2b2b" stroke-width="0.7" />
<line x1="269.20" y1="234.62" x2="271.00" y2="234.62" stroke="#2b2b2b" stroke-width="0.7" />
<line x1="269.20" y1="229.96" x2="271.00" y2="229.96" stroke="#2b2b2b" stroke-width="0.7" />
<line x1="268.20" y1="225.30" x2="271.00" y2="225.30" stroke="#2b2b2b" stroke-width="0.7" />
<line x1="269.20" y1="220.64" x2="271.00" y2="220.64" stroke="#2b2b2b" stroke-width="0.7" />
<line x1="269.20" y1="215.98" x2="271.00" y2="215.98" stroke="#2b2b2b" stroke-width="0.7" />
<line x1="269.20" y1="211.32" x2="271.00" y2="211.32" stroke="#2b2b2b" stroke-width="0.7" />
<line x1="269.20" y1="206.66" x2="271.00" y2="206.66" stroke="#2b2b2b" stroke-width="0.7" />
<line x1="269.20" y1="202.00" x2="271.00" y2="202.00" stroke="#2b2b2b" stroke-width="0.7" />
<text x="264.60" y="320.70" font-size="6.1" text-anchor="end" fill="#2f2f2f" stroke="#2f2f2f" stroke-width="0.18" font-weight="normal" font-style="normal" >10</text>
<text x="264.60" y="274.10" font-size="6.1" text-anchor="end" fill="#2f2f2f" stroke="#2f2f2f" stroke-width="0.18" font-weight="normal" font-style="normal" >20</text>
<text x="264.60" y="227.50" font-size="6.1" text-anchor="end" fill="#2f2f2f" stroke="#2f2f2f" stroke-width="0.18" font-weight="normal" font-style="normal" >30</text>
<text transform="translate(250.60,263.20) rotate(-90)" x="0" y="2.63" font-size="7.3" text-anchor="middle" fill="#2f2f2f" stroke="#2f2f2f" stroke-width="0.18" textLength="63.5" lengthAdjust="spacingAndGlyphs" >CRT avg cell intensity</text>
<line x1="270.15" y1="327.90" x2="357.70" y2="327.90" stroke="#2b2b2b" stroke-width="1.3" />
<line x1="280.50" y1="327.90" x2="280.50" y2="330.60" stroke="#2b2b2b" stroke-width="1.3" />
<line x1="293.90" y1="327.90" x2="293.90" y2="330.60" stroke="#2b2b2b" stroke-width="1.3" />
<line x1="307.60" y1="327.90" x2="307.60" y2="330.60" stroke="#2b2b2b" stroke-width="1.3" />
<line x1="321.40" y1="327.90" x2="321.40" y2="330.60" stroke="#2b2b2b" stroke-width="1.3" />
<line x1="335.20" y1="327.90" x2="335.20" y2="330.60" stroke="#2b2b2b" stroke-width="1.3" />
<line x1="349.40" y1="327.90" x2="349.40" y2="330.60" stroke="#2b2b2b" stroke-width="1.3" />
<text x="314.00" y="197.80" font-size="6.6" text-anchor="middle" fill="#2f2f2f" stroke="#2f2f2f" stroke-width="0.18" font-weight="normal" font-style="normal" >5TGM1</text>
<text x="287.30" y="205.20" font-size="6.6" text-anchor="middle" fill="#2f2f2f" stroke="#2f2f2f" stroke-width="0.18" font-weight="normal" font-style="normal" >WT</text>
<text x="328.70" y="205.20" font-size="6.6" text-anchor="middle" fill="#2f2f2f" stroke="#2f2f2f" stroke-width="0.18" font-weight="normal" font-style="italic" >Gabarap<tspan font-size="4.2" dy="-2.4">KO</tspan></text>
<line x1="276.70" y1="207.40" x2="299.40" y2="207.40" stroke="#333" stroke-width="0.9" />
<line x1="302.70" y1="207.40" x2="353.80" y2="207.40" stroke="#333" stroke-width="0.9" />
<path d="M280.50,217.90 L280.50,214.50 L294.30,214.50 L294.30,217.90" fill="none" stroke="#4a4a4a" stroke-width="0.85"/>
<text x="287.65" y="215.40" font-size="6.4" text-anchor="middle" fill="#333" stroke="#333" stroke-width="0.3" font-weight="normal" font-style="normal" letter-spacing="0.5">***</text>
<path d="M307.80,232.80 L307.80,229.40 L349.30,229.40 L349.30,232.80" fill="none" stroke="#4a4a4a" stroke-width="0.85"/>
<text x="328.55" y="229.50" font-size="6.4" text-anchor="middle" fill="#333" stroke="#333" stroke-width="0.3" font-weight="normal" font-style="normal" >*</text>
<line x1="280.30" y1="274.10" x2="280.30" y2="309.20" stroke="#5a2a6a" stroke-width="0.9" />
<line x1="278.30" y1="274.10" x2="282.30" y2="274.10" stroke="#5a2a6a" stroke-width="0.9" />
<line x1="278.30" y1="309.20" x2="282.30" y2="309.20" stroke="#5a2a6a" stroke-width="0.9" />
<rect x="276.00" y="280.80" width="8.60" height="12.80" fill="#c596d2" stroke="#5a2a6a" stroke-width="0.5" />
<line x1="276.00" y1="286.40" x2="284.60" y2="286.40" stroke="#5a2a6a" stroke-width="1.0" />
<circle cx="279.17" cy="274.30" r="1.3" fill="#5a1f70" stroke="none" stroke-width="0.6"/>
<circle cx="278.07" cy="275.50" r="1.3" fill="#5a1f70" stroke="none" stroke-width="0.6"/>
<circle cx="281.27" cy="277.00" r="1.3" fill="#5a1f70" stroke="none" stroke-width="0.6"/>
<circle cx="277.56" cy="278.50" r="1.3" fill="#5a1f70" stroke="none" stroke-width="0.6"/>
<circle cx="280.53" cy="280.00" r="1.3" fill="#5a1f70" stroke="none" stroke-width="0.6"/>
<circle cx="279.44" cy="281.00" r="1.3" fill="#5a1f70" stroke="none" stroke-width="0.6"/>
<circle cx="277.47" cy="282.00" r="1.3" fill="#5a1f70" stroke="none" stroke-width="0.6"/>
<circle cx="280.35" cy="283.00" r="1.3" fill="#5a1f70" stroke="none" stroke-width="0.6"/>
<circle cx="277.34" cy="283.50" r="1.3" fill="#5a1f70" stroke="none" stroke-width="0.6"/>
<circle cx="279.88" cy="284.00" r="1.3" fill="#5a1f70" stroke="none" stroke-width="0.6"/>
<circle cx="277.55" cy="285.00" r="1.3" fill="#5a1f70" stroke="none" stroke-width="0.6"/>
<circle cx="277.68" cy="285.50" r="1.3" fill="#5a1f70" stroke="none" stroke-width="0.6"/>
<circle cx="279.82" cy="286.00" r="1.3" fill="#5a1f70" stroke="none" stroke-width="0.6"/>
<circle cx="282.39" cy="286.50" r="1.3" fill="#5a1f70" stroke="none" stroke-width="0.6"/>
<circle cx="277.89" cy="287.00" r="1.3" fill="#5a1f70" stroke="none" stroke-width="0.6"/>
<circle cx="278.53" cy="288.00" r="1.3" fill="#5a1f70" stroke="none" stroke-width="0.6"/>
<circle cx="281.12" cy="288.50" r="1.3" fill="#5a1f70" stroke="none" stroke-width="0.6"/>
<circle cx="283.17" cy="289.00" r="1.3" fill="#5a1f70" stroke="none" stroke-width="0.6"/>
<circle cx="280.79" cy="290.00" r="1.3" fill="#5a1f70" stroke="none" stroke-width="0.6"/>
<circle cx="279.64" cy="291.00" r="1.3" fill="#5a1f70" stroke="none" stroke-width="0.6"/>
<circle cx="283.35" cy="292.00" r="1.3" fill="#5a1f70" stroke="none" stroke-width="0.6"/>
<circle cx="277.40" cy="293.00" r="1.3" fill="#5a1f70" stroke="none" stroke-width="0.6"/>
<circle cx="282.59" cy="295.00" r="1.3" fill="#5a1f70" stroke="none" stroke-width="0.6"/>
<circle cx="278.95" cy="297.50" r="1.3" fill="#5a1f70" stroke="none" stroke-width="0.6"/>
<circle cx="278.02" cy="300.00" r="1.3" fill="#5a1f70" stroke="none" stroke-width="0.6"/>
<circle cx="277.85" cy="303.00" r="1.3" fill="#5a1f70" stroke="none" stroke-width="0.6"/>
<circle cx="279.07" cy="306.00" r="1.3" fill="#5a1f70" stroke="none" stroke-width="0.6"/>
<line x1="278.10" y1="309.20" x2="282.50" y2="309.20" stroke="#222" stroke-width="0.9" />
<line x1="278.10" y1="274.10" x2="282.50" y2="274.10" stroke="#333" stroke-width="0.9" />
<line x1="294.30" y1="225.30" x2="294.30" y2="289.00" stroke="#1d3b78" stroke-width="0.9" />
<line x1="292.30" y1="225.30" x2="296.30" y2="225.30" stroke="#1d3b78" stroke-width="0.9" />
<line x1="292.30" y1="289.00" x2="296.30" y2="289.00" stroke="#1d3b78" stroke-width="0.9" />
<rect x="290.05" y="258.90" width="8.50" height="24.60" fill="#9fb2d4" stroke="#1d3b78" stroke-width="0.5" />
<line x1="290.05" y1="278.40" x2="298.55" y2="278.40" stroke="#1d3b78" stroke-width="1.0" />
<circle cx="293.20" cy="225.40" r="1.05" fill="#183070" stroke="none" stroke-width="0.6"/>
<circle cx="295.30" cy="226.00" r="1.05" fill="#183070" stroke="none" stroke-width="0.6"/>
<circle cx="296.20" cy="250.40" r="1.05" fill="#183070" stroke="none" stroke-width="0.6"/>
<circle cx="292.38" cy="257.00" r="1.05" fill="#183070" stroke="none" stroke-width="0.6"/>
<circle cx="294.79" cy="269.50" r="1.05" fill="#183070" stroke="none" stroke-width="0.6"/>
<circle cx="295.13" cy="273.50" r="1.05" fill="#183070" stroke="none" stroke-width="0.6"/>
<circle cx="293.53" cy="275.50" r="1.05" fill="#183070" stroke="none" stroke-width="0.6"/>
<circle cx="294.59" cy="276.50" r="1.05" fill="#183070" stroke="none" stroke-width="0.6"/>
<circle cx="291.68" cy="277.50" r="1.05" fill="#183070" stroke="none" stroke-width="0.6"/>
<circle cx="291.66" cy="278.50" r="1.05" fill="#183070" stroke="none" stroke-width="0.6"/>
<circle cx="292.54" cy="280.00" r="1.05" fill="#183070" stroke="none" stroke-width="0.6"/>
<circle cx="295.38" cy="281.50" r="1.05" fill="#183070" stroke="none" stroke-width="0.6"/>
<circle cx="293.87" cy="283.00" r="1.05" fill="#183070" stroke="none" stroke-width="0.6"/>
<circle cx="293.18" cy="284.50" r="1.05" fill="#183070" stroke="none" stroke-width="0.6"/>
<circle cx="294.81" cy="286.00" r="1.05" fill="#183070" stroke="none" stroke-width="0.6"/>
<circle cx="294.02" cy="287.50" r="1.05" fill="#183070" stroke="none" stroke-width="0.6"/>
<circle cx="293.10" cy="289.00" r="1.05" fill="#183070" stroke="none" stroke-width="0.6"/>
<line x1="308.10" y1="258.90" x2="308.10" y2="317.20" stroke="#4a8cc8" stroke-width="0.9" />
<line x1="306.10" y1="258.90" x2="310.10" y2="258.90" stroke="#4a8cc8" stroke-width="0.9" />
<line x1="306.10" y1="317.20" x2="310.10" y2="317.20" stroke="#4a8cc8" stroke-width="0.9" />
<rect x="303.90" y="278.50" width="8.40" height="25.60" fill="#bcdaf5" stroke="#4a8cc8" stroke-width="0.5" />
<line x1="303.90" y1="291.70" x2="312.30" y2="291.70" stroke="#4a8cc8" stroke-width="1.0" />
<circle cx="309.87" cy="259.00" r="1.0" fill="#3a7fc0" stroke="none" stroke-width="0.6"/>
<circle cx="309.29" cy="268.00" r="1.0" fill="#3a7fc0" stroke="none" stroke-width="0.6"/>
<circle cx="306.56" cy="280.00" r="1.0" fill="#3a7fc0" stroke="none" stroke-width="0.6"/>
<circle cx="308.55" cy="286.00" r="1.0" fill="#3a7fc0" stroke="none" stroke-width="0.6"/>
<circle cx="308.25" cy="290.00" r="1.0" fill="#3a7fc0" stroke="none" stroke-width="0.6"/>
<circle cx="310.35" cy="292.00" r="1.0" fill="#3a7fc0" stroke="none" stroke-width="0.6"/>
<circle cx="309.48" cy="296.00" r="1.0" fill="#3a7fc0" stroke="none" stroke-width="0.6"/>
<circle cx="306.83" cy="301.00" r="1.0" fill="#3a7fc0" stroke="none" stroke-width="0.6"/>
<circle cx="310.98" cy="305.00" r="1.0" fill="#3a7fc0" stroke="none" stroke-width="0.6"/>
<circle cx="305.81" cy="310.00" r="1.0" fill="#3a7fc0" stroke="none" stroke-width="0.6"/>
<circle cx="307.61" cy="313.00" r="1.0" fill="#3a7fc0" stroke="none" stroke-width="0.6"/>
<circle cx="309.64" cy="317.00" r="1.0" fill="#3a7fc0" stroke="none" stroke-width="0.6"/>
<line x1="321.00" y1="282.30" x2="321.00" y2="311.00" stroke="#3aa63a" stroke-width="0.9" />
<line x1="319.00" y1="282.30" x2="323.00" y2="282.30" stroke="#3aa63a" stroke-width="0.9" />
<line x1="319.00" y1="311.00" x2="323.00" y2="311.00" stroke="#3aa63a" stroke-width="0.9" />
<rect x="317.30" y="294.00" width="7.40" height="9.50" fill="#c8ecc0" stroke="#3aa63a" stroke-width="0.5" />
<line x1="317.30" y1="298.50" x2="324.70" y2="298.50" stroke="#3aa63a" stroke-width="1.0" />
<circle cx="319.05" cy="282.50" r="1.3" fill="#36b23a" stroke="none" stroke-width="0.6"/>
<circle cx="320.94" cy="286.00" r="1.3" fill="#36b23a" stroke="none" stroke-width="0.6"/>
<circle cx="318.42" cy="289.00" r="1.3" fill="#36b23a" stroke="none" stroke-width="0.6"/>
<circle cx="321.94" cy="291.50" r="1.3" fill="#36b23a" stroke="none" stroke-width="0.6"/>
<circle cx="322.48" cy="293.50" r="1.3" fill="#36b23a" stroke="none" stroke-width="0.6"/>
<circle cx="321.41" cy="295.00" r="1.3" fill="#36b23a" stroke="none" stroke-width="0.6"/>
<circle cx="323.10" cy="296.00" r="1.3" fill="#36b23a" stroke="none" stroke-width="0.6"/>
<circle cx="319.96" cy="297.00" r="1.3" fill="#36b23a" stroke="none" stroke-width="0.6"/>
<circle cx="322.09" cy="298.00" r="1.3" fill="#36b23a" stroke="none" stroke-width="0.6"/>
<circle cx="321.53" cy="299.00" r="1.3" fill="#36b23a" stroke="none" stroke-width="0.6"/>
<circle cx="321.45" cy="300.00" r="1.3" fill="#36b23a" stroke="none" stroke-width="0.6"/>
<circle cx="320.75" cy="301.00" r="1.3" fill="#36b23a" stroke="none" stroke-width="0.6"/>
<circle cx="322.90" cy="302.00" r="1.3" fill="#36b23a" stroke="none" stroke-width="0.6"/>
<circle cx="323.49" cy="303.00" r="1.3" fill="#36b23a" stroke="none" stroke-width="0.6"/>
<circle cx="320.85" cy="304.00" r="1.3" fill="#36b23a" stroke="none" stroke-width="0.6"/>
<circle cx="321.92" cy="305.00" r="1.3" fill="#36b23a" stroke="none" stroke-width="0.6"/>
<circle cx="318.54" cy="306.00" r="1.3" fill="#36b23a" stroke="none" stroke-width="0.6"/>
<circle cx="322.13" cy="307.00" r="1.3" fill="#36b23a" stroke="none" stroke-width="0.6"/>
<circle cx="321.82" cy="308.50" r="1.3" fill="#36b23a" stroke="none" stroke-width="0.6"/>
<circle cx="323.76" cy="310.00" r="1.3" fill="#36b23a" stroke="none" stroke-width="0.6"/>
<circle cx="322.80" cy="311.00" r="1.3" fill="#36b23a" stroke="none" stroke-width="0.6"/>
<line x1="318.80" y1="282.30" x2="323.20" y2="282.30" stroke="#2a5a2a" stroke-width="0.9" />
<line x1="335.30" y1="251.50" x2="335.30" y2="302.50" stroke="#7f8466" stroke-width="0.9" />
<line x1="333.30" y1="251.50" x2="337.30" y2="251.50" stroke="#7f8466" stroke-width="0.9" />
<line x1="333.30" y1="302.50" x2="337.30" y2="302.50" stroke="#7f8466" stroke-width="0.9" />
<rect x="330.80" y="265.40" width="9.00" height="36.60" fill="#e3e7d0" stroke="#7f8466" stroke-width="0.5" />
<line x1="330.80" y1="283.00" x2="339.80" y2="283.00" stroke="#222" stroke-width="1.0" />
<circle cx="334.22" cy="252.00" r="1.0" fill="#a0a888" stroke="none" stroke-width="0.6"/>
<circle cx="334.73" cy="268.00" r="1.0" fill="#a0a888" stroke="none" stroke-width="0.6"/>
<circle cx="336.14" cy="274.00" r="1.0" fill="#a0a888" stroke="none" stroke-width="0.6"/>
<circle cx="332.91" cy="279.00" r="1.0" fill="#a0a888" stroke="none" stroke-width="0.6"/>
<circle cx="335.11" cy="285.00" r="1.0" fill="#a0a888" stroke="none" stroke-width="0.6"/>
<circle cx="333.64" cy="292.00" r="1.0" fill="#a0a888" stroke="none" stroke-width="0.6"/>
<circle cx="333.39" cy="298.00" r="1.0" fill="#a0a888" stroke="none" stroke-width="0.6"/>
<circle cx="333.09" cy="302.00" r="1.0" fill="#a0a888" stroke="none" stroke-width="0.6"/>
<line x1="349.00" y1="241.40" x2="349.00" y2="293.10" stroke="#e0a030" stroke-width="0.9" />
<line x1="347.00" y1="241.40" x2="351.00" y2="241.40" stroke="#e0a030" stroke-width="0.9" />
<line x1="347.00" y1="293.10" x2="351.00" y2="293.10" stroke="#e0a030" stroke-width="0.9" />
<rect x="344.50" y="254.00" width="9.00" height="35.50" fill="#fde3a6" stroke="#e0a030" stroke-width="0.5" />
<line x1="344.50" y1="270.80" x2="353.50" y2="270.80" stroke="#222" stroke-width="1.0" />
<circle cx="350.34" cy="242.00" r="1.0" fill="#e8b040" stroke="none" stroke-width="0.6"/>
<circle cx="347.15" cy="255.00" r="1.0" fill="#e8b040" stroke="none" stroke-width="0.6"/>
<circle cx="347.74" cy="262.00" r="1.0" fill="#e8b040" stroke="none" stroke-width="0.6"/>
<circle cx="348.45" cy="270.00" r="1.0" fill="#e8b040" stroke="none" stroke-width="0.6"/>
<circle cx="350.86" cy="276.00" r="1.0" fill="#e8b040" stroke="none" stroke-width="0.6"/>
<circle cx="346.90" cy="283.00" r="1.0" fill="#e8b040" stroke="none" stroke-width="0.6"/>
<circle cx="348.75" cy="290.00" r="1.0" fill="#e8b040" stroke="none" stroke-width="0.6"/>
<circle cx="349.25" cy="293.00" r="1.0" fill="#e8b040" stroke="none" stroke-width="0.6"/>
<line x1="278.80" y1="337.30" x2="282.20" y2="337.30" stroke="#606060" stroke-width="0.8" />
<line x1="292.10" y1="337.30" x2="295.70" y2="337.30" stroke="#606060" stroke-width="0.85" />
<line x1="293.90" y1="335.50" x2="293.90" y2="339.10" stroke="#606060" stroke-width="0.85" />
<line x1="305.90" y1="337.30" x2="309.30" y2="337.30" stroke="#606060" stroke-width="0.8" />
<line x1="319.60" y1="337.30" x2="323.20" y2="337.30" stroke="#606060" stroke-width="0.85" />
<line x1="321.40" y1="335.50" x2="321.40" y2="339.10" stroke="#606060" stroke-width="0.85" />
<line x1="333.50" y1="337.30" x2="336.90" y2="337.30" stroke="#606060" stroke-width="0.8" />
<line x1="347.60" y1="337.30" x2="351.20" y2="337.30" stroke="#606060" stroke-width="0.85" />
<line x1="349.40" y1="335.50" x2="349.40" y2="339.10" stroke="#606060" stroke-width="0.85" />
<line x1="278.80" y1="345.30" x2="282.20" y2="345.30" stroke="#606060" stroke-width="0.8" />
<line x1="292.20" y1="345.30" x2="295.60" y2="345.30" stroke="#606060" stroke-width="0.8" />
<line x1="305.90" y1="345.30" x2="309.30" y2="345.30" stroke="#606060" stroke-width="0.8" />
<line x1="319.70" y1="345.30" x2="323.10" y2="345.30" stroke="#606060" stroke-width="0.8" />
<line x1="333.40" y1="345.30" x2="337.00" y2="345.30" stroke="#606060" stroke-width="0.85" />
<line x1="335.20" y1="343.50" x2="335.20" y2="347.10" stroke="#606060" stroke-width="0.85" />
<line x1="347.60" y1="345.30" x2="351.20" y2="345.30" stroke="#606060" stroke-width="0.85" />
<line x1="349.40" y1="343.50" x2="349.40" y2="347.10" stroke="#606060" stroke-width="0.85" />
<text x="356.80" y="339.50" font-size="6.1" text-anchor="start" fill="#2f2f2f" stroke="#2f2f2f" stroke-width="0.08" font-weight="normal" font-style="normal" >BTZ</text>
<text x="356.80" y="347.50" font-size="6.1" text-anchor="start" fill="#2f2f2f" stroke="#2f2f2f" stroke-width="0.08" font-weight="normal" font-style="normal" >RAPA</text>
<line x1="428.70" y1="206.70" x2="428.70" y2="334.30" stroke="#2b2b2b" stroke-width="1.3" />
<line x1="425.70" y1="331.80" x2="428.70" y2="331.80" stroke="#2b2b2b" stroke-width="1.3" />
<text x="422.80" y="334.00" font-size="6.1" text-anchor="end" fill="#2f2f2f" stroke="#2f2f2f" stroke-width="0.18" font-weight="normal" font-style="normal" >0</text>
<line x1="425.70" y1="311.46" x2="428.70" y2="311.46" stroke="#2b2b2b" stroke-width="1.3" />
<text x="422.80" y="313.66" font-size="6.1" text-anchor="end" fill="#2f2f2f" stroke="#2f2f2f" stroke-width="0.18" font-weight="normal" font-style="normal" >2</text>
<line x1="425.70" y1="291.12" x2="428.70" y2="291.12" stroke="#2b2b2b" stroke-width="1.3" />
<text x="422.80" y="293.32" font-size="6.1" text-anchor="end" fill="#2f2f2f" stroke="#2f2f2f" stroke-width="0.18" font-weight="normal" font-style="normal" >4</text>
<line x1="425.70" y1="270.78" x2="428.70" y2="270.78" stroke="#2b2b2b" stroke-width="1.3" />
<text x="422.80" y="272.98" font-size="6.1" text-anchor="end" fill="#2f2f2f" stroke="#2f2f2f" stroke-width="0.18" font-weight="normal" font-style="normal" >6</text>
<line x1="425.70" y1="250.44" x2="428.70" y2="250.44" stroke="#2b2b2b" stroke-width="1.3" />
<text x="422.80" y="252.64" font-size="6.1" text-anchor="end" fill="#2f2f2f" stroke="#2f2f2f" stroke-width="0.18" font-weight="normal" font-style="normal" >8</text>
<line x1="425.70" y1="230.10" x2="428.70" y2="230.10" stroke="#2b2b2b" stroke-width="1.3" />
<text x="422.80" y="232.30" font-size="6.1" text-anchor="end" fill="#2f2f2f" stroke="#2f2f2f" stroke-width="0.18" font-weight="normal" font-style="normal" >10</text>
<line x1="425.70" y1="209.76" x2="428.70" y2="209.76" stroke="#2b2b2b" stroke-width="1.3" />
<text x="422.80" y="211.96" font-size="6.1" text-anchor="end" fill="#2f2f2f" stroke="#2f2f2f" stroke-width="0.18" font-weight="normal" font-style="normal" >12</text>
<text transform="translate(407.80,268.80) rotate(-90)" x="0" y="2.74" font-size="7.6" text-anchor="middle" fill="#2f2f2f" stroke="#2f2f2f" stroke-width="0.18" textLength="89.5" lengthAdjust="spacingAndGlyphs" >Tumor growth (fold increase)</text>
<text x="464.00" y="199.90" font-size="8.7" text-anchor="middle" fill="#2f2f2f" stroke="#2f2f2f" stroke-width="0.18" font-weight="normal" font-style="normal" >5TGM1 <tspan font-style="italic">Gabarap</tspan><tspan font-size="5.6" dy="-3.1" font-style="italic">KO</tspan></text>
<path d="M439.60,211.40 L439.60,208.50 L488.00,208.50 L488.00,211.40" fill="none" stroke="#4a4a4a" stroke-width="0.85"/>
<text x="464.05" y="209.80" font-size="6.4" text-anchor="middle" fill="#333" stroke="#333" stroke-width="0.3" font-weight="normal" font-style="normal" letter-spacing="0.5">**</text>
<path d="M439.60,217.30 L439.60,214.40 L471.20,214.40 L471.20,217.30" fill="none" stroke="#4a4a4a" stroke-width="0.85"/>
<text x="455.40" y="215.60" font-size="6.4" text-anchor="middle" fill="#333" stroke="#333" stroke-width="0.3" font-weight="normal" font-style="normal" >*</text>
<path d="M439.60,222.40 L439.60,219.50 L455.50,219.50 L455.50,222.40" fill="none" stroke="#4a4a4a" stroke-width="0.85"/>
<text x="447.55" y="220.90" font-size="6.4" text-anchor="middle" fill="#333" stroke="#333" stroke-width="0.3" font-weight="normal" font-style="normal" >*</text>
<path d="M454.80,263.00 L454.80,259.20 L488.20,259.20 L488.20,263.00" fill="none" stroke="#4a4a4a" stroke-width="0.85"/>
<text x="471.50" y="259.30" font-size="6.4" text-anchor="middle" fill="#333" stroke="#333" stroke-width="0.3" font-weight="normal" font-style="normal" >*</text>
<path d="M454.80,270.70 L454.80,266.30 L470.90,266.30 L470.90,270.70" fill="none" stroke="#4a4a4a" stroke-width="0.85"/>
<text x="462.85" y="264.60" font-size="6" text-anchor="middle" fill="#333" stroke="#333" stroke-width="0.18" font-weight="normal" font-style="normal" >ns</text>
<path d="M472.40,270.70 L472.40,266.30 L488.20,266.30 L488.20,270.70" fill="none" stroke="#4a4a4a" stroke-width="0.85"/>
<text x="480.30" y="266.40" font-size="6.4" text-anchor="middle" fill="#333" stroke="#333" stroke-width="0.3" font-weight="normal" font-style="normal" >*</text>
<line x1="439.30" y1="226.10" x2="439.30" y2="310.00" stroke="#7090a8" stroke-width="0.9" />
<line x1="437.10" y1="226.10" x2="441.50" y2="226.10" stroke="#5a7890" stroke-width="0.9" />
<line x1="437.10" y1="310.00" x2="441.50" y2="310.00" stroke="#5a7890" stroke-width="0.9" />
<rect x="434.20" y="231.20" width="10.20" height="60.60" fill="#bcdaf5" stroke="#a8c8e8" stroke-width="0.4" />
<line x1="434.20" y1="273.30" x2="444.40" y2="273.30" stroke="#2a5a9a" stroke-width="1.1" />
<circle cx="439.50" cy="234.60" r="0.9" fill="#4a8cc8" stroke="none" stroke-width="0.6"/>
<circle cx="441.00" cy="274.50" r="0.8" fill="#4a8cc8" stroke="none" stroke-width="0.6"/>
<line x1="455.40" y1="295.60" x2="455.40" y2="318.90" stroke="#4a7a4a" stroke-width="0.9" />
<line x1="453.20" y1="295.60" x2="457.60" y2="295.60" stroke="#3a5a3a" stroke-width="0.9" />
<line x1="453.20" y1="318.90" x2="457.60" y2="318.90" stroke="#3a5a3a" stroke-width="0.9" />
<rect x="450.40" y="300.10" width="10.00" height="16.20" fill="#c5e6b8" stroke="#8fcf80" stroke-width="0.4" />
<line x1="450.40" y1="311.30" x2="460.40" y2="311.30" stroke="#2a6a2a" stroke-width="1.1" />
<circle cx="454.50" cy="305.00" r="0.7" fill="#7cc46a" stroke="none" stroke-width="0.6"/>
<circle cx="456.50" cy="313.50" r="0.7" fill="#7cc46a" stroke="none" stroke-width="0.6"/>
<line x1="471.50" y1="280.90" x2="471.50" y2="322.00" stroke="#6a6a5a" stroke-width="0.9" />
<line x1="469.30" y1="280.90" x2="473.70" y2="280.90" stroke="#3a3a3a" stroke-width="0.9" />
<line x1="469.30" y1="322.00" x2="473.70" y2="322.00" stroke="#3a3a3a" stroke-width="0.9" />
<rect x="466.70" y="288.50" width="9.60" height="33.50" fill="#e0e4cc" stroke="#b8bca0" stroke-width="0.4" />
<line x1="466.70" y1="301.10" x2="476.30" y2="301.10" stroke="#222" stroke-width="1.1" />
<circle cx="471.50" cy="294.50" r="0.7" fill="#b0b490" stroke="none" stroke-width="0.6"/>
<line x1="428.70" y1="321.60" x2="498.40" y2="321.60" stroke="#383838" stroke-width="1.7" />
<line x1="488.00" y1="313.60" x2="488.00" y2="327.20" stroke="#9a7a50" stroke-width="0.9" />
<line x1="485.80" y1="313.60" x2="490.20" y2="313.60" stroke="#7a6a50" stroke-width="0.9" />
<line x1="485.80" y1="327.20" x2="490.20" y2="327.20" stroke="#7a6a50" stroke-width="0.9" />
<rect x="483.20" y="320.20" width="9.60" height="3.00" fill="#fcd27a" stroke="#f0b040" stroke-width="0.4" />
<line x1="483.20" y1="321.80" x2="492.80" y2="321.80" stroke="#f0a020" stroke-width="1.1" />
<circle cx="488.00" cy="321.80" r="1.2" fill="#f0a020" stroke="none" stroke-width="0.6"/>
<line x1="437.50" y1="337.60" x2="440.90" y2="337.60" stroke="#606060" stroke-width="0.8" />
<line x1="453.00" y1="337.60" x2="456.60" y2="337.60" stroke="#606060" stroke-width="0.85" />
<line x1="454.80" y1="335.80" x2="454.80" y2="339.40" stroke="#606060" stroke-width="0.85" />
<line x1="470.10" y1="337.60" x2="473.50" y2="337.60" stroke="#606060" stroke-width="0.8" />
<line x1="486.10" y1="337.60" x2="489.70" y2="337.60" stroke="#606060" stroke-width="0.85" />
<line x1="487.90" y1="335.80" x2="487.90" y2="339.40" stroke="#606060" stroke-width="0.85" />
<line x1="437.50" y1="345.40" x2="440.90" y2="345.40" stroke="#606060" stroke-width="0.8" />
<line x1="453.10" y1="345.40" x2="456.50" y2="345.40" stroke="#606060" stroke-width="0.8" />
<line x1="470.00" y1="345.40" x2="473.60" y2="345.40" stroke="#606060" stroke-width="0.85" />
<line x1="471.80" y1="343.60" x2="471.80" y2="347.20" stroke="#606060" stroke-width="0.85" />
<line x1="486.10" y1="345.40" x2="489.70" y2="345.40" stroke="#606060" stroke-width="0.85" />
<line x1="487.90" y1="343.60" x2="487.90" y2="347.20" stroke="#606060" stroke-width="0.85" />
<text x="496.70" y="339.80" font-size="6.1" text-anchor="start" fill="#2f2f2f" stroke="#2f2f2f" stroke-width="0.08" font-weight="normal" font-style="normal" >BTZ</text>
<text x="496.70" y="347.60" font-size="6.1" text-anchor="start" fill="#2f2f2f" stroke="#2f2f2f" stroke-width="0.08" font-weight="normal" font-style="normal" >RAPA</text>
<rect x="0.5" y="0.5" width="519" height="355" fill="none" stroke="#5a5a5a" stroke-width="1"/>
</svg></body></html>
